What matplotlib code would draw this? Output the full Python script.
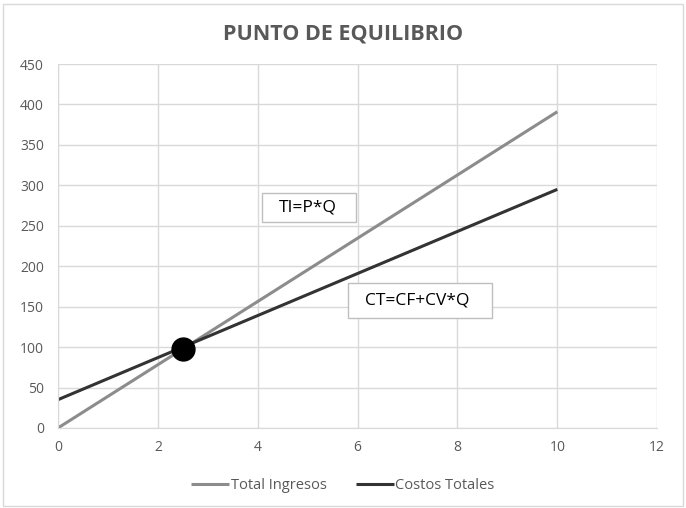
import matplotlib.pyplot as plt
from matplotlib.patches import Rectangle

plt.rcParams['font.family'] = ['Open Sans', 'DejaVu Sans']

# Datos
cantidad = [0, 10]
total_ingresos = [0, 391]
costos_totales = [35, 295]
punto_eq_x = [2.5]
punto_eq_y = [97.5]

gris_texto = '#595959'
gris_rejilla = '#d9d9d9'

fig = plt.figure(figsize=(6.86, 5.08), dpi=100)
ax = fig.add_axes([0.0845, 0.1575, 0.8735, 0.7165])

# Borde del area del grafico
fig.patches.append(Rectangle((0.005, 0.003), 0.99, 0.99, transform=fig.transFigure,
                             fill=False, edgecolor='#d9d9d9', linewidth=1))

ax.plot(cantidad, total_ingresos, color='#8c8c8c', linewidth=2.2, label='Total Ingresos',
        solid_capstyle='butt')
ax.plot(cantidad, costos_totales, color='#333333', linewidth=2.2, label='Costos Totales',
        solid_capstyle='butt')
ax.plot(punto_eq_x, punto_eq_y, 'o', color='black', markersize=16.5, zorder=5)

ax.set_xlim(0, 12)
ax.set_ylim(0, 450)
ax.set_xticks(range(0, 13, 2))
ax.set_yticks(range(0, 451, 50))
ax.grid(True, color=gris_rejilla, linewidth=1)
ax.set_axisbelow(True)
for lado in ['top', 'right']:
    ax.spines[lado].set_visible(False)
for lado in ['left', 'bottom']:
    ax.spines[lado].set_color(gris_rejilla)
ax.tick_params(length=0, colors=gris_texto, labelsize=10)
ax.tick_params(axis='x', pad=9)
ax.tick_params(axis='y', pad=10)

# Cuadros de texto con las formulas
ax.add_patch(Rectangle((4.08, 254.5), 1.88, 36, facecolor='white', edgecolor='#bfbfbf',
                       linewidth=1, zorder=6))
ax.text(5.0, 273, 'TI=P*Q', ha='center', va='center', fontsize=12.5, color='black', zorder=7)
ax.add_patch(Rectangle((5.8, 136), 2.9, 43, facecolor='white', edgecolor='#bfbfbf',
                       linewidth=1, zorder=6))
ax.text(7.2, 158, 'CT=CF+CV*Q', ha='center', va='center', fontsize=12.5, color='black', zorder=7)

fig.suptitle('PUNTO DE EQUILIBRIO', x=0.5, y=0.953, fontsize=15.5, fontweight='bold', color=gris_texto)

fig.legend(loc='center', bbox_to_anchor=(0.5, 0.045), ncol=2, frameon=False, fontsize=10.5,
           labelcolor=gris_texto, handlelength=2.6, handletextpad=0.1, columnspacing=2.0)

plt.savefig('out.png', dpi=100)
